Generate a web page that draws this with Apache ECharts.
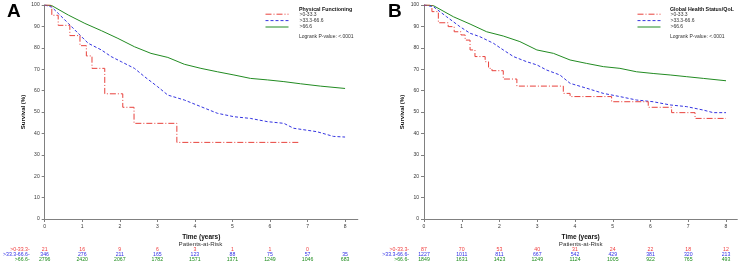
<!DOCTYPE html>
<html><head><meta charset="utf-8">
<script src="https://cdn.jsdelivr.net/npm/echarts@6/dist/echarts.min.js"></script>
<style>html,body{margin:0;padding:0;background:#fff}#c{width:740px;height:266px}</style>
</head><body><div id="c"></div>
<script>
const timeTicks = [0,1,2,3,4,5,6,7,8];
const groupNames = ['>0-33.3', '>33.3-66.6', '>66.6'];
const rowLabels = ['>0-33.3-', '>33.3-66.6-', '>66.6-'];

// Panel A: Physical Functioning
const aLowT  = [0, 0.19, 0.36, 0.67, 0.94, 1.11, 1.26, 1.60, 2.08, 2.38, 3.52, 6.76];
const aLowV  = [100, 95.2, 90.5, 85.7, 81.0, 76.2, 70.4, 58.5, 52.2, 44.7, 35.8, 35.8];
const aMidT  = [0, 0.19, 0.36, 0.63, 0.89, 1.16, 1.51, 1.77, 2.04, 2.39, 2.66, 3.01, 3.28, 3.72, 4.16, 4.60, 5.04, 5.48, 5.93, 6.37, 6.63, 7.25, 7.69, 8.0];
const aMidV  = [100, 99.0, 96.1, 91.4, 86.8, 82.1, 79.0, 75.9, 73.5, 70.4, 66.5, 61.8, 57.9, 55.6, 52.5, 49.4, 47.8, 47.0, 45.5, 44.7, 42.4, 40.8, 38.6, 38.3];
const aHighT = [0, 0.19, 0.63, 1.07, 1.51, 1.95, 2.39, 2.83, 3.28, 3.72, 4.16, 4.60, 5.04, 5.48, 5.93, 6.37, 6.81, 7.34, 8.0];
const aHighV = [100, 99.7, 95.3, 91.4, 88.0, 84.4, 80.5, 77.4, 75.5, 72.3, 70.4, 68.8, 67.3, 65.7, 65.0, 64.2, 63.2, 62.1, 61.0];
const aRiskLow  = [21, 16, 9, 6, 3, 1, 1, 0, ''];
const aRiskMid  = [346, 276, 211, 165, 123, 88, 75, 57, 35];
const aRiskHigh = [2796, 2420, 2067, 1782, 1571, 1371, 1249, 1046, 683];

// Panel B: Global Health Status/QoL
const bLowT  = [0, 0.21, 0.38, 0.64, 0.80, 0.98, 1.09, 1.22, 1.35, 1.62, 1.71, 1.80, 2.10, 2.46, 3.69, 3.87, 4.97, 5.94, 6.56, 7.18, 8.0];
const bLowV  = [100, 96.9, 91.7, 89.9, 87.5, 86.0, 83.6, 79.0, 75.9, 73.5, 70.4, 69.3, 65.4, 62.1, 58.7, 57.2, 54.8, 52.2, 49.7, 47.0, 47.0];
const bMidT  = [0, 0.25, 0.60, 0.95, 1.22, 1.48, 1.84, 2.10, 2.37, 2.72, 2.99, 3.25, 3.60, 3.87, 4.31, 4.75, 5.19, 5.63, 6.07, 6.52, 6.96, 7.40, 7.66, 8.0];
const bMidV  = [100, 99.2, 94.5, 89.9, 86.8, 85.2, 82.1, 79.0, 75.9, 73.5, 72.0, 69.6, 67.3, 63.4, 61.1, 58.7, 57.2, 55.6, 54.8, 53.3, 52.5, 50.9, 49.7, 49.7];
const bHighT = [0, 0.25, 0.78, 1.22, 1.66, 2.10, 2.54, 2.99, 3.43, 3.87, 4.31, 4.75, 5.19, 5.63, 6.07, 6.52, 6.96, 7.40, 8.0];
const bHighV = [100, 99.7, 94.5, 91.1, 87.5, 85.5, 82.9, 79.0, 77.4, 74.3, 72.7, 71.2, 70.4, 68.8, 68.0, 67.3, 66.5, 65.7, 64.6];
const bRiskLow  = [87, 70, 53, 40, 31, 24, 22, 18, 12];
const bRiskMid  = [1227, 1011, 811, 667, 542, 429, 381, 320, 213];
const bRiskHigh = [1849, 1631, 1423, 1249, 1124, 1005, 922, 765, 493];

const FONT = 'Liberation Sans, Arial, sans-serif';
const colors = ['#e8423c', '#3434e0', '#228b22'];
const riskColors = ['#f03c3c', '#3030e6', '#1e8c1e'];
const lineTypes = [[6,2,1,2], [3,2], 'solid'];

const zip = (t, v) => t.map((x, i) => [x, v[i]]);

const panels = [
  {left: 43, xmax: 8.34, letter: 'A', letterX: 7, title: 'Physical Functioning', lx: 265, tx: 299,
   data: [zip(aLowT, aLowV), zip(aMidT, aMidV), zip(aHighT, aHighV)],
   risk: [aRiskLow, aRiskMid, aRiskHigh]},
  {left: 424, xmax: 8.3, letter: 'B', letterX: 388, title: 'Global Health Status/QoL', lx: 637, tx: 670,
   data: [zip(bLowT, bLowV), zip(bMidT, bMidV), zip(bHighT, bHighV)],
   risk: [bRiskLow, bRiskMid, bRiskHigh]}
];
const PX_PER_YEAR = 37.75;
const TOP = 5, HEIGHT = 214;

const grid = [], xAxis = [], yAxis = [], series = [], legend = [], graphic = [];
panels.forEach((p, g) => {
  const w = p.xmax * PX_PER_YEAR;
  grid.push({left: p.left, top: TOP, width: w, height: HEIGHT});
  const mainIdx = xAxis.length;
  xAxis.push({
    gridIndex: g, type: 'value', min: 0, max: p.xmax, interval: 1,
    axisLine: {lineStyle: {color: '#808080', width: 1}},
    axisTick: {length: 3, customValues: timeTicks, lineStyle: {color: '#808080'}},
    axisLabel: {customValues: timeTicks, fontSize: 5, margin: 5, color: '#333', fontFamily: FONT},
    splitLine: {show: false},
    name: 'Time (years)', nameLocation: 'middle', nameGap: 10.5,
    nameTextStyle: {fontWeight: 'bold', fontSize: 6.5, color: '#111', fontFamily: FONT}
  });
  const offs = [28, 33, 38];
  p.risk.forEach((arr, r) => {
    xAxis.push({
      gridIndex: g, type: 'value', min: 0, max: p.xmax, position: 'bottom', offset: offs[r],
      axisLine: {show: false}, axisTick: {show: false}, splitLine: {show: false},
      axisLabel: {customValues: timeTicks, margin: 0, fontSize: 5.2, color: riskColors[r], fontFamily: FONT,
        formatter: v => { const x = arr[Math.round(v)]; return x === undefined ? '' : String(x); }},
      name: rowLabels[r], nameLocation: 'start', nameGap: 15,
      nameTextStyle: {color: riskColors[r], fontSize: 5.2, verticalAlign: 'top', fontFamily: FONT}
    });
  });
  yAxis.push({
    gridIndex: g, type: 'value', min: 0, max: 100, interval: 10,
    axisLine: {show: true, lineStyle: {color: '#808080', width: 1}},
    axisTick: {show: true, length: 3, lineStyle: {color: '#808080'}},
    axisLabel: {fontSize: 5, margin: 5, color: '#333', fontFamily: FONT},
    splitLine: {show: false},
    name: 'Survival (%)', nameLocation: 'middle', nameGap: 18.5, nameRotate: 90,
    nameTextStyle: {fontWeight: 'bold', fontSize: 6, color: '#111', fontFamily: FONT}
  });
  p.data.forEach((d, s) => {
    series.push({
      type: 'line', name: groupNames[s], xAxisIndex: mainIdx, yAxisIndex: g,
      data: d, showSymbol: false, symbol: 'none', step: s === 0 ? 'end' : false,
      lineStyle: {color: colors[s], width: 1, type: lineTypes[s]},
      itemStyle: {color: colors[s]}, animation: false, z: 3 - s
    });
  });
  legend.push({
    left: p.lx, top: 11, orient: 'vertical', itemWidth: 23, itemHeight: 8, itemGap: 0,
    padding: 0, data: groupNames, selectedMode: false,
    itemStyle: {opacity: 0},
    lineStyle: {width: 1},
    textStyle: {fontSize: 5, color: '#333', fontFamily: FONT, padding: [0, 0, 0, p.tx - p.lx - 28]}
  });
  graphic.push(
    {type: 'text', left: p.letterX, top: 2, style: {text: p.letter, font: 'bold 19px ' + FONT, fill: '#000'}},
    {type: 'text', left: p.tx, top: 7, style: {text: p.title, font: 'bold 5.3px ' + FONT, fill: '#111'}},
    {type: 'text', left: p.tx, top: 34.5, style: {text: 'Logrank P-value: <.0001', font: '5px ' + FONT, fill: '#333'}},
    {type: 'text', x: p.left + p.xmax * PX_PER_YEAR / 2, y: 241.5, style: {text: 'Patients-at-Risk', font: '6.2px ' + FONT, fill: '#333', align: 'center'}}
  );
});

const chart = echarts.init(document.getElementById('c'), null, {renderer: 'canvas'});
chart.setOption({
  animation: false, backgroundColor: '#fff',
  textStyle: {fontFamily: FONT},
  grid, xAxis, yAxis, series, legend, graphic
});
</script></body></html>
